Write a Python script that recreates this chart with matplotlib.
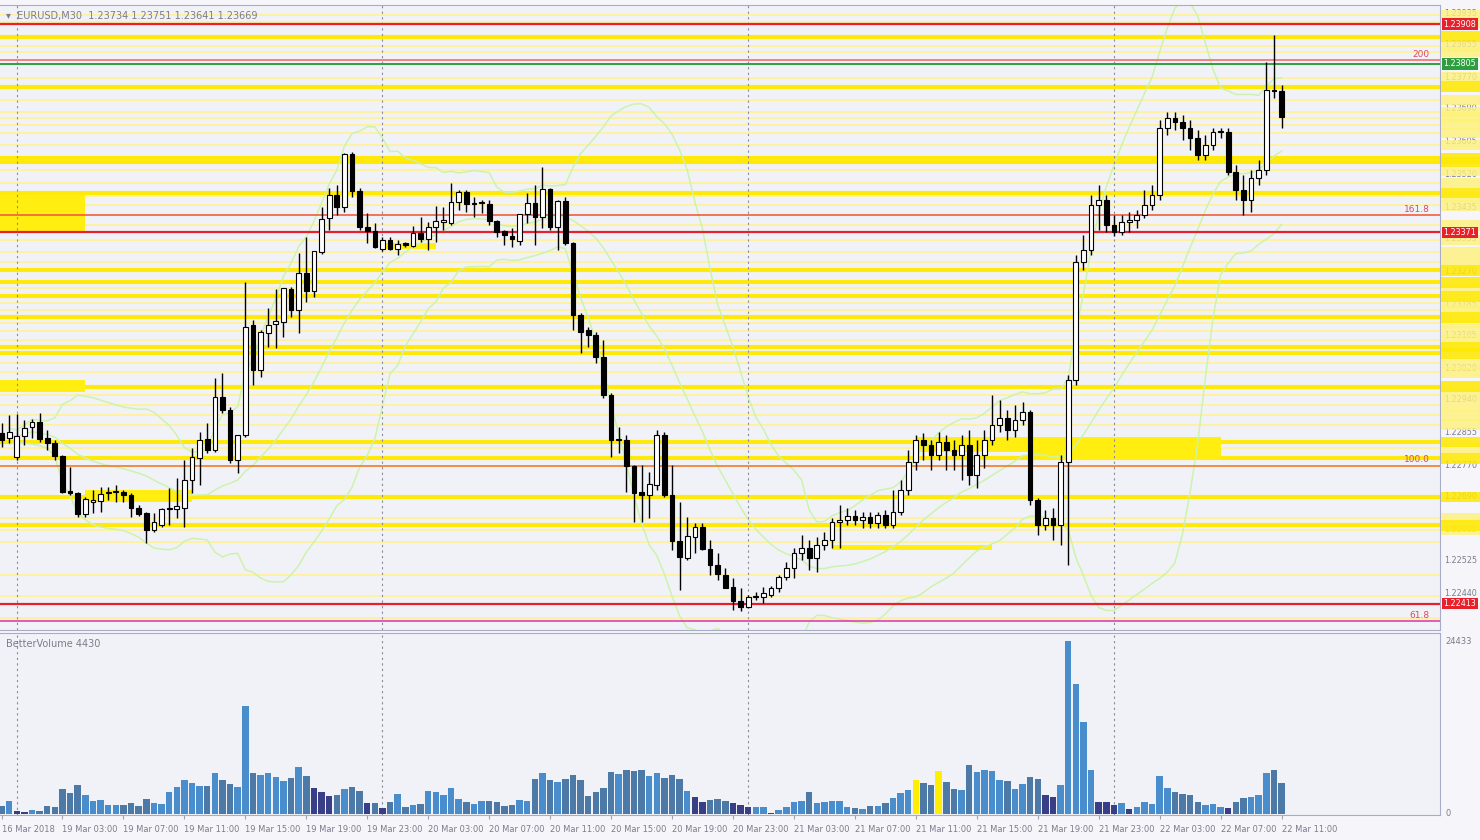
import matplotlib.pyplot as plt
from matplotlib.patches import Rectangle
import numpy as np
import pandas as pd

# EURUSD M30, 16 Mar 23:00 -> 22 Mar 11:00 (169 bars)
opens = [1.22853, 1.22840, 1.22791, 1.22845, 1.22868, 1.22881, 1.22840, 1.22827, 1.22793, 1.22703,
         1.22698, 1.22644, 1.22675, 1.22677, 1.22698, 1.22701, 1.22701, 1.22693, 1.22659, 1.22647,
         1.22603, 1.22615, 1.22657, 1.22657, 1.22659, 1.22732, 1.22788, 1.22837, 1.22809, 1.22946,
         1.22912, 1.22783, 1.22848, 1.23131, 1.23015, 1.23111, 1.23134, 1.23139, 1.23224, 1.23170,
         1.23266, 1.23219, 1.23320, 1.23408, 1.23467, 1.23436, 1.23573, 1.23477, 1.23384, 1.23374,
         1.23328, 1.23351, 1.23328, 1.23343, 1.23335, 1.23369, 1.23353, 1.23384, 1.23397, 1.23395,
         1.23449, 1.23475, 1.23444, 1.23446, 1.23444, 1.23400, 1.23374, 1.23361, 1.23348, 1.23418,
         1.23446, 1.23410, 1.23482, 1.23384, 1.23451, 1.23343, 1.23157, 1.23119, 1.23106, 1.23049,
         1.22951, 1.22835, 1.22835, 1.22768, 1.22701, 1.22693, 1.22719, 1.22848, 1.22693, 1.22574,
         1.22530, 1.22585, 1.22610, 1.22554, 1.22512, 1.22487, 1.22456, 1.22419, 1.22404, 1.22430,
         1.22430, 1.22435, 1.22453, 1.22481, 1.22505, 1.22543, 1.22556, 1.22530, 1.22564, 1.22577,
         1.22623, 1.22628, 1.22639, 1.22628, 1.22636, 1.22621, 1.22641, 1.22615, 1.22649, 1.22706,
         1.22778, 1.22835, 1.22822, 1.22796, 1.22830, 1.22809, 1.22796, 1.22822, 1.22745, 1.22796,
         1.22835, 1.22874, 1.22892, 1.22861, 1.22886, 1.22907, 1.22680, 1.22615, 1.22634, 1.22615,
         1.22778, 1.22990, 1.23294, 1.23325, 1.23441, 1.23454, 1.23389, 1.23371, 1.23397, 1.23402,
         1.23415, 1.23441, 1.23467, 1.23640, 1.23666, 1.23655, 1.23640, 1.23614, 1.23570, 1.23596,
         1.23629, 1.23629, 1.23526, 1.23480, 1.23454, 1.23511, 1.23531, 1.23738, 1.23734]
highs = [1.22879, 1.22899, 1.22902, 1.22886, 1.22889, 1.22904, 1.22861, 1.22835, 1.22796, 1.22765,
         1.22701, 1.22688, 1.22706, 1.22713, 1.22713, 1.22719, 1.22706, 1.22698, 1.22667, 1.22649,
         1.22647, 1.22659, 1.22711, 1.22737, 1.22783, 1.22814, 1.22855, 1.22879, 1.22995, 1.23008,
         1.22920, 1.22848, 1.23242, 1.23144, 1.23119, 1.23175, 1.23224, 1.23227, 1.23230, 1.23317,
         1.23359, 1.23322, 1.23436, 1.23485, 1.23493, 1.23575, 1.23578, 1.23485, 1.23420, 1.23395,
         1.23359, 1.23359, 1.23351, 1.23346, 1.23387, 1.23410, 1.23397, 1.23438, 1.23436, 1.23498,
         1.23480, 1.23480, 1.23462, 1.23454, 1.23454, 1.23402, 1.23377, 1.23382, 1.23418, 1.23472,
         1.23493, 1.23539, 1.23485, 1.23454, 1.23462, 1.23346, 1.23162, 1.23126, 1.23113, 1.23093,
         1.22956, 1.22868, 1.22848, 1.22770, 1.22770, 1.22752, 1.22861, 1.22855, 1.22770, 1.22675,
         1.22636, 1.22621, 1.22621, 1.22577, 1.22543, 1.22505, 1.22479, 1.22453, 1.22435, 1.22443,
         1.22456, 1.22458, 1.22487, 1.22520, 1.22556, 1.22590, 1.22577, 1.22585, 1.22597, 1.22634,
         1.22667, 1.22659, 1.22654, 1.22649, 1.22649, 1.22649, 1.22654, 1.22706, 1.22732, 1.22809,
         1.22848, 1.22853, 1.22835, 1.22855, 1.22848, 1.22835, 1.22848, 1.22861, 1.22835, 1.22861,
         1.22951, 1.22938, 1.22912, 1.22925, 1.22933, 1.22912, 1.22685, 1.22654, 1.22659, 1.22796,
         1.23003, 1.23312, 1.23364, 1.23467, 1.23493, 1.23467, 1.23415, 1.23415, 1.23423, 1.23428,
         1.23480, 1.23493, 1.23660, 1.23681, 1.23681, 1.23673, 1.23660, 1.23635, 1.23622, 1.23640,
         1.23640, 1.23640, 1.23544, 1.23518, 1.23531, 1.23557, 1.23810, 1.23880, 1.23751]
lows = [1.22817, 1.22827, 1.22783, 1.22822, 1.22840, 1.22830, 1.22809, 1.22783, 1.22698, 1.22693,
        1.22636, 1.22636, 1.22647, 1.22649, 1.22680, 1.22675, 1.22675, 1.22636, 1.22639, 1.22569,
        1.22597, 1.22610, 1.22615, 1.22634, 1.22610, 1.22698, 1.22719, 1.22801, 1.22804, 1.22904,
        1.22775, 1.22750, 1.22842, 1.22977, 1.22997, 1.23075, 1.23072, 1.23101, 1.23152, 1.23111,
        1.23191, 1.23204, 1.23315, 1.23377, 1.23415, 1.23423, 1.23462, 1.23377, 1.23343, 1.23330,
        1.23322, 1.23325, 1.23312, 1.23333, 1.23333, 1.23346, 1.23325, 1.23346, 1.23377, 1.23389,
        1.23428, 1.23423, 1.23410, 1.23420, 1.23389, 1.23359, 1.23338, 1.23333, 1.23338, 1.23395,
        1.23338, 1.23382, 1.23377, 1.23325, 1.23338, 1.23119, 1.23059, 1.23075, 1.23033, 1.22943,
        1.22791, 1.22801, 1.22701, 1.22623, 1.22623, 1.22634, 1.22706, 1.22688, 1.22551, 1.22448,
        1.22525, 1.22543, 1.22551, 1.22487, 1.22474, 1.22453, 1.22396, 1.22394, 1.22401, 1.22422,
        1.22414, 1.22430, 1.22443, 1.22474, 1.22479, 1.22525, 1.22499, 1.22494, 1.22551, 1.22556,
        1.22556, 1.22615, 1.22615, 1.22608, 1.22608, 1.22608, 1.22608, 1.22608, 1.22641, 1.22693,
        1.22757, 1.22783, 1.22757, 1.22783, 1.22757, 1.22757, 1.22732, 1.22719, 1.22711, 1.22763,
        1.22822, 1.22855, 1.22835, 1.22842, 1.22873, 1.22667, 1.22590, 1.22603, 1.22577, 1.22564,
        1.22512, 1.22977, 1.23273, 1.23312, 1.23377, 1.23371, 1.23361, 1.23364, 1.23371, 1.23382,
        1.23408, 1.23428, 1.23454, 1.23622, 1.23635, 1.23609, 1.23583, 1.23557, 1.23557, 1.23583,
        1.23614, 1.23518, 1.23454, 1.23415, 1.23423, 1.23493, 1.23518, 1.23717, 1.23641]
closes = [1.22835, 1.22855, 1.22845, 1.22866, 1.22881, 1.22837, 1.22827, 1.22793, 1.22701, 1.22698,
          1.22644, 1.22683, 1.22680, 1.22695, 1.22701, 1.22703, 1.22693, 1.22659, 1.22644, 1.22603,
          1.22623, 1.22657, 1.22659, 1.22664, 1.22732, 1.22791, 1.22835, 1.22809, 1.22946, 1.22912,
          1.22783, 1.22848, 1.23126, 1.23015, 1.23113, 1.23131, 1.23142, 1.23227, 1.23170, 1.23266,
          1.23219, 1.23322, 1.23405, 1.23467, 1.23436, 1.23573, 1.23477, 1.23384, 1.23374, 1.23333,
          1.23351, 1.23328, 1.23340, 1.23338, 1.23369, 1.23353, 1.23384, 1.23400, 1.23402, 1.23449,
          1.23475, 1.23444, 1.23446, 1.23449, 1.23400, 1.23371, 1.23364, 1.23353, 1.23418, 1.23446,
          1.23410, 1.23482, 1.23384, 1.23451, 1.23343, 1.23157, 1.23113, 1.23106, 1.23049, 1.22951,
          1.22835, 1.22837, 1.22768, 1.22698, 1.22693, 1.22721, 1.22848, 1.22693, 1.22574, 1.22533,
          1.22587, 1.22610, 1.22554, 1.22512, 1.22489, 1.22453, 1.22419, 1.22404, 1.22430, 1.22432,
          1.22440, 1.22453, 1.22481, 1.22505, 1.22543, 1.22556, 1.22530, 1.22564, 1.22577, 1.22623,
          1.22628, 1.22639, 1.22628, 1.22636, 1.22621, 1.22641, 1.22615, 1.22649, 1.22706, 1.22778,
          1.22835, 1.22822, 1.22796, 1.22830, 1.22809, 1.22796, 1.22822, 1.22745, 1.22796, 1.22835,
          1.22874, 1.22892, 1.22861, 1.22886, 1.22907, 1.22680, 1.22615, 1.22634, 1.22615, 1.22778,
          1.22990, 1.23294, 1.23325, 1.23441, 1.23454, 1.23389, 1.23371, 1.23397, 1.23402, 1.23415,
          1.23441, 1.23467, 1.23640, 1.23666, 1.23655, 1.23640, 1.23614, 1.23570, 1.23596, 1.23629,
          1.23632, 1.23526, 1.23480, 1.23454, 1.23511, 1.23531, 1.23738, 1.23735, 1.23669]
volumes = [1175, 1786, 470, 235, 611, 470, 1128, 1034, 3478, 2914,
           4089, 2632, 1786, 1974, 1269, 1269, 1269, 1598, 1175, 2162,
           1598, 1457, 3102, 3854, 4841, 4324, 3901, 3995, 5828, 4841,
           4183, 3760, 15228, 5828, 5546, 5734, 5264, 4606, 5029, 6627,
           5311, 3713, 3149, 2585, 2726, 3572, 3854, 3196, 1551, 1551,
           799, 1739, 2773, 940, 1316, 1410, 3243, 3149, 2726, 3666,
           2162, 1645, 1363, 1880, 1880, 1739, 1081, 1222, 2021, 1880,
           4982, 5781, 4841, 4465, 4982, 5546, 4747, 2585, 3149, 3666,
           5875, 5687, 6251, 6110, 6251, 5358, 5734, 5076, 5499, 4935,
           3196, 2397, 1739, 1974, 2162, 1880, 1598, 1316, 940, 940,
           940, 141, 564, 940, 1739, 1880, 3149, 1504, 1645, 1786,
           1786, 987, 846, 705, 1081, 1081, 1551, 2256, 2914, 3431,
           4841, 4371, 4136, 6110, 4512, 3572, 3337, 6956, 5875, 6251,
           6110, 4794, 4653, 3478, 4277, 5264, 4982, 2726, 2444, 4042,
           24433, 18330, 12925, 6251, 1645, 1645, 1269, 1551, 705, 987,
           1645, 1363, 5311, 3713, 3055, 2820, 2632, 1739, 1316, 1457,
           1034, 799, 1739, 2209, 2397, 2679, 5781, 6157, 4430]
low_vol_bars = [2, 3, 41, 42, 43, 48, 50, 91, 92, 96, 97, 98, 101, 137, 138, 144, 145, 146, 148, 161]
climax_bars = [120, 123]

day_start_bars = [2, 50, 98, 146]
time_bars = [0] + list(range(8, 169, 8))
time_labels = ['16 Mar 2018',
               '19 Mar 03:00', '19 Mar 07:00', '19 Mar 11:00', '19 Mar 15:00', '19 Mar 19:00', '19 Mar 23:00',
               '20 Mar 03:00', '20 Mar 07:00', '20 Mar 11:00', '20 Mar 15:00', '20 Mar 19:00', '20 Mar 23:00',
               '21 Mar 03:00', '21 Mar 07:00', '21 Mar 11:00', '21 Mar 15:00', '21 Mar 19:00', '21 Mar 23:00',
               '22 Mar 03:00', '22 Mar 07:00', '22 Mar 11:00']
price_ticks = [1.22440, 1.22525, 1.22605, 1.22690, 1.22770, 1.22855, 1.22940, 1.23020, 1.23105, 1.23185,
               1.23270, 1.23355, 1.23435, 1.23520, 1.23605, 1.23690, 1.23770, 1.23855, 1.23935]

red_levels = [1.23908, 1.23371, 1.22413]
green_levels = [1.23805]
fib_levels = [1.23815, 1.23415, 1.22768, 1.22368]
fib_labels = ['200', '161.8', '100.0', '61.8']

yellow_strong = [1.23875, 1.23746, 1.23562, 1.23552, 1.23472, 1.23273, 1.23242, 1.23206, 1.23152,
                 1.23075, 1.23059, 1.22972, 1.22830, 1.22788, 1.22688, 1.22615]
yellow_soft = [1.23931, 1.23913, 1.23851, 1.23836, 1.23769, 1.23712, 1.23681, 1.23666, 1.23648, 1.23627,
               1.23596, 1.23531, 1.23498, 1.23464, 1.23441, 1.23389, 1.23351, 1.23320, 1.23294, 1.23227,
               1.23188, 1.23170, 1.23137, 1.23116, 1.23093, 1.23033, 1.23010, 1.22951, 1.22925, 1.22899,
               1.22874, 1.22814, 1.22634, 1.22603, 1.22572, 1.22487, 1.22432, 1.22376]

zone_start = [-1, -1, 11, 50, 120, 135, 109]
zone_end = [11, 11, 25, 57, 135, 160, 130]
zone_low = [1.23371, 1.22959, 1.22675, 1.23328, 1.22805, 1.22783, 1.22551]
zone_high = [1.23467, 1.22990, 1.22706, 1.23343, 1.22843, 1.22843, 1.22564]

bg = '#f1f2f8'
grey = '#7c7c8c'

fig = plt.figure(figsize=(14.8, 8.4), dpi=100, facecolor='#f6f6fa')
ax = fig.add_axes([0, 0.25, 0.973, 0.744], facecolor=bg)
axv = fig.add_axes([0, 0.0298, 0.973, 0.2166], facecolor=bg)

x = np.arange(len(closes))
ax.set_xlim(-0.2, 188.8)
axv.set_xlim(-0.2, 188.8)
ax.set_ylim(1.22345, 1.23957)
axv.set_ylim(-141, 25563)

for a in (ax, axv):
    a.set_yticks([])
    for s in a.spines.values():
        s.set_color('#a8acc8')
        s.set_linewidth(0.8)
    a.spines['left'].set_visible(False)
ax.set_xticks([])

# support / resistance levels
for p in yellow_soft:
    ax.axhline(p, color='#fff3a0', lw=1.4, zorder=1)
for p in yellow_strong:
    ax.axhline(p, color='#ffe90a', lw=3, zorder=1.2)
for s0, s1, lo, hi in zip(zone_start, zone_end, zone_low, zone_high):
    ax.add_patch(Rectangle((s0, lo), s1 - s0, hi - lo, color='#ffee10', lw=0, zorder=1.3))

# bollinger bands
cs = pd.Series(closes)
mid = cs.rolling(20, min_periods=1).mean()
sd = cs.rolling(20, min_periods=2).std(ddof=0)
for line in (mid, mid + 2 * sd, mid - 2 * sd):
    ax.plot(x, line, color='#cdf2ad', lw=1.1, zorder=1.5)

fib_colors = ['#f07070', '#f0603a', '#f07a28', '#e040b0']
for p, lab, c in zip(fib_levels, fib_labels, fib_colors):
    ax.axhline(p, color=c, lw=1.2, zorder=2)
    ax.text(0.993, p + 0.00004, lab, transform=ax.get_yaxis_transform(), ha='right', va='bottom',
            fontsize=6.5, color='#d84868', zorder=5)
for p in red_levels:
    ax.axhline(p, color='#e8202a', lw=1.6, zorder=2.2)
for p in green_levels:
    ax.axhline(p, color='#2e9e3e', lw=1.4, zorder=2.2)

for d in day_start_bars:
    ax.axvline(d, color='#8a8a99', lw=0.8, ls=(0, (2, 3)), zorder=1.8)
    axv.axvline(d, color='#8a8a99', lw=0.8, ls=(0, (2, 3)), zorder=0.5)

# candles
for i in x:
    o, h, l, c = opens[i], highs[i], lows[i], closes[i]
    ax.vlines(i, min(l, o, c), max(h, o, c), color='black', lw=1, zorder=3)
    body = max(abs(c - o), 0.000025)
    face = 'white' if c >= o else 'black'
    ax.bar(i, body, bottom=min(o, c), width=0.62, color=face, edgecolor='black', lw=0.8, zorder=4)

# right price scale
ytrans = ax.get_yaxis_transform()
for p in price_ticks:
    ax.text(1.003, p, '%.5f' % p, transform=ytrans, ha='left', va='center', fontsize=5.8,
            color=grey, clip_on=False)
box_h = 0.00028
for p in yellow_soft:
    if p > 1.2260:
        ax.add_patch(Rectangle((1.0005, p - box_h / 2), 0.028, box_h, transform=ytrans,
                               color='#fff27a', alpha=0.8, lw=0, clip_on=False, zorder=6))
for p in yellow_strong:
    ax.add_patch(Rectangle((1.0005, p - box_h / 2), 0.028, box_h, transform=ytrans,
                           color='#ffe900', alpha=0.85, lw=0, clip_on=False, zorder=6))
for p in red_levels:
    ax.text(1.0025, p, '%.5f' % p, transform=ytrans, ha='left', va='center', fontsize=5.8, color='white',
            clip_on=False, zorder=8, bbox=dict(boxstyle='square,pad=0.15', fc='#e8202a', ec='none'))
for p in green_levels:
    ax.text(1.0025, p, '%.5f' % p, transform=ytrans, ha='left', va='center', fontsize=5.8, color='white',
            clip_on=False, zorder=8, bbox=dict(boxstyle='square,pad=0.15', fc='#2e9e3e', ec='none'))

ax.text(0.004, 0.982, '\u25be  EURUSD,M30  %.5f %.5f %.5f %.5f' % (opens[-1], highs[-1], lows[-1], closes[-1]),
        transform=ax.transAxes, fontsize=7, color=grey, va='center', zorder=9)

# volume panel
vol_colors = []
for i in x:
    if i in climax_bars:
        vol_colors.append('#ffee00')
    elif i in low_vol_bars:
        vol_colors.append('#383f86')
    elif closes[i] >= opens[i]:
        vol_colors.append('#4a8dcd')
    else:
        vol_colors.append('#4d79a6')
axv.bar(x, volumes, width=0.85, color=vol_colors, zorder=2)
axv.text(0.004, 0.94, 'BetterVolume %d' % volumes[-1], transform=axv.transAxes, fontsize=7,
         color=grey, va='center')
axv.text(1.004, max(volumes), str(max(volumes)), transform=axv.get_yaxis_transform(), fontsize=6,
         color=grey, va='center', clip_on=False)
axv.text(1.004, 0, '0', transform=axv.get_yaxis_transform(), fontsize=6, color=grey, va='center',
         clip_on=False)

axv.set_xticks(time_bars)
axv.set_xticklabels(time_labels, ha='left', fontsize=6, color=grey)
axv.tick_params(axis='x', length=3, color='#a0a0b0', pad=4)

fig.savefig('out.png', dpi=100, facecolor=fig.get_facecolor())
